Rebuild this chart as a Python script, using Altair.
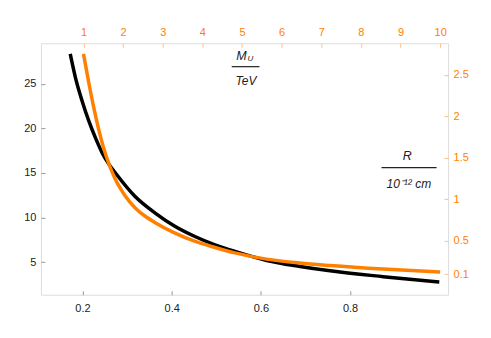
import altair as alt
import pandas as pd

# Black curve (bottom x axis, left y axis)
black_x = [0.1725, 0.1843, 0.1993, 0.2143, 0.2291, 0.2441, 0.2591, 0.2739, 0.318, 0.363, 0.408, 0.452, 0.497, 0.542, 0.613, 0.688, 0.755, 0.874, 1.0]
black_y = [28.37, 25.68, 23.06, 20.82, 18.94, 17.26, 16.0, 15.0, 12.36, 10.50, 8.99, 7.87, 6.94, 6.19, 5.18, 4.51, 4.02, 3.36, 2.75]

# Orange curve (top axis M_U/TeV, right axis R/10^-12 cm)
orange_m = [1.0, 1.136, 1.262, 1.388, 1.514, 1.640, 1.80, 2.05, 2.30, 2.55, 2.81, 3.31, 3.82, 4.32, 4.82, 5.62, 6.46, 7.22, 8.56, 10.0]
orange_r = [2.754, 2.40, 2.10, 1.835, 1.61, 1.43, 1.245, 1.045, 0.90, 0.80, 0.72, 0.594, 0.493, 0.420, 0.355, 0.28, 0.233, 0.203, 0.160, 0.124]

# Tick labels
bottom_ticks = [0.2, 0.4, 0.6, 0.8]
left_ticks = [5, 10, 15, 20, 25]
top_ticks = [1, 2, 3, 4, 5, 6, 7, 8, 9, 10]
right_ticks = [0.1, 0.5, 1, 1.5, 2, 2.5]

# Annotation texts (placed in top/right data coordinates)
ann_text = ["M", "U", "TeV", "R", "10\u207b\u00b9\u00b2 cm"]
ann_m = [5.114, 5.139, 5.10, 9.17, 9.21]
ann_r = [2.681, 2.668, 2.38, 1.476, 1.136]
ann_size = [12.5, 8, 12, 12.5, 12]
ann_align = ["right", "left", "center", "center", "center"]

frac_m1 = [4.74, 8.52]
frac_m2 = [5.44, 9.91]
frac_r = [2.60, 1.384]

ORANGE = "#ff8000"
FONT = "Liberation Sans"

black_df = pd.DataFrame({"x": black_x, "y": black_y})
orange_df = pd.DataFrame({"m": orange_m, "r": orange_r})
ann_df = pd.DataFrame({"m": ann_m, "r": ann_r, "t": ann_text, "s": ann_size, "a": ann_align})
frac_df = pd.DataFrame({"m": frac_m1, "m2": frac_m2, "r": frac_r})

xb_dom = [0.1068, 1.0197]
yl_dom = [1.33, 29.57]
xt_dom = [-0.074, 10.2]
yr_dom = [-0.149, 2.882]

def ax(orient, values, color, tick_color, pad):
    return alt.Axis(orient=orient, values=values, domain=False, grid=False, tickSize=4,
                    offset=-4, labelPadding=pad, tickColor=tick_color, labelColor=color,
                    labelFontSize=11, labelFont=FONT, format="~f", title=None,
                    labelFlush=False, labelOverlap=False)

black = alt.Chart(black_df).mark_line(color="black", strokeWidth=3.5, interpolate="monotone").encode(
    x=alt.X("x:Q", scale=alt.Scale(domain=xb_dom, nice=False, zero=False),
            axis=ax("bottom", bottom_ticks, "#222222", "#999999", 8)),
    y=alt.Y("y:Q", scale=alt.Scale(domain=yl_dom, nice=False, zero=False),
            axis=ax("left", left_ticks, "#222222", "#999999", 5)),
)

def xt():
    return alt.X("m:Q", scale=alt.Scale(domain=xt_dom, nice=False, zero=False),
                 axis=ax("top", top_ticks, ORANGE, "#ffc080", 6))

def yr():
    return alt.Y("r:Q", scale=alt.Scale(domain=yr_dom, nice=False, zero=False),
                 axis=ax("right", right_ticks, ORANGE, "#ffc080", 5))

orange_line = alt.Chart(orange_df).mark_line(color=ORANGE, strokeWidth=3.5, interpolate="monotone").encode(
    x=xt(), y=yr(),
)

texts = []
for al in ["right", "left", "center"]:
    texts.append(
        alt.Chart(ann_df).transform_filter(alt.datum.a == al).mark_text(
            font=FONT, fontStyle="italic", color="#222222", align=al, baseline="alphabetic"
        ).encode(
            x=xt(), y=yr(),
            text="t:N",
            size=alt.Size("s:Q", scale=None, legend=None),
        )
    )

frac = alt.Chart(frac_df).mark_rule(color="#222222", strokeWidth=1.2).encode(
    x=xt(), x2="m2:Q", y=yr(),
)

orange_group = alt.layer(orange_line, frac, *texts)

chart = alt.layer(black, orange_group).resolve_scale(x="independent", y="independent").properties(
    width=408, height=252,
    autosize=alt.AutoSizeParams(type="none"),
    padding={"left": 33, "top": 35, "right": 35, "bottom": 35},
).configure_view(stroke="#999999", strokeWidth=1).configure(background="white")

chart.save("out.html", embed_options={"renderer": "svg", "actions": False})
